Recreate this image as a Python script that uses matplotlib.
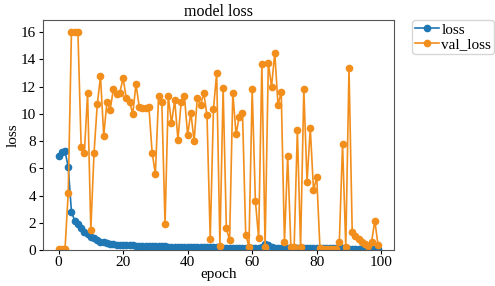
import matplotlib
matplotlib.use("Agg")
import matplotlib.pyplot as plt

plt.rcParams["font.family"] = ["Liberation Serif", "DejaVu Serif"]
plt.rcParams["font.size"] = 11

# ── Data ──────────────────────────────────────────────────────────────────────
epochs = list(range(100))

loss = [
    6.9, 7.2, 7.25, 6.1, 2.8, 2.15, 1.9, 1.6, 1.35, 1.15,
    0.98, 0.85, 0.72, 0.62, 0.55, 0.5, 0.46, 0.43, 0.4, 0.38,
    0.36, 0.35, 0.34, 0.33, 0.32, 0.31, 0.3, 0.29, 0.28, 0.28,
    0.27, 0.27, 0.26, 0.26, 0.25, 0.25, 0.24, 0.24, 0.23, 0.23,
    0.22, 0.22, 0.21, 0.21, 0.2, 0.2, 0.2, 0.19, 0.19, 0.19,
    0.18, 0.18, 0.18, 0.17, 0.17, 0.17, 0.17, 0.16, 0.16, 0.16,
    0.16, 0.16, 0.17, 0.22, 0.45, 0.35, 0.2, 0.16, 0.15, 0.15,
    0.15, 0.14, 0.14, 0.14, 0.14, 0.13, 0.13, 0.13, 0.13, 0.12,
    0.12, 0.12, 0.12, 0.12, 0.11, 0.11, 0.11, 0.11, 0.11, 0.11,
    0.1, 0.1, 0.1, 0.1, 0.1, 0.1, 0.1, 0.1, 0.1, 0.1,
]

val_loss = [
    0.05, 0.05, 0.05, 4.2, 16.05, 16.05, 16.05, 7.6, 7.15, 11.5,
    1.5, 7.15, 10.7, 12.75, 8.4, 10.9, 10.3, 11.85, 11.45, 11.57,
    12.62, 11.15, 10.9, 10.0, 12.2, 10.5, 10.4, 10.4, 10.5, 7.15,
    5.6, 11.3, 10.9, 1.9, 11.3, 9.3, 11.0, 8.1, 10.9, 11.3,
    8.45, 10.1, 8.0, 11.2, 10.65, 11.55, 9.9, 0.8, 10.35, 13.0,
    0.3, 11.9, 1.6, 0.7, 11.57, 8.5, 9.8, 10.1, 1.1, 0.25,
    11.8, 3.6, 0.85, 13.7, 0.25, 13.75, 12.0, 14.5, 10.65, 11.6,
    0.6, 6.9, 0.2, 0.2, 8.8, 0.2, 11.8, 5.0, 8.95, 4.4,
    5.35, 0.15, 0.1, 0.1, 0.1, 0.1, 0.1, 0.55, 7.8, 0.2,
    13.35, 1.3, 1.0, 0.8, 0.6, 0.45, 0.3, 0.6, 2.15, 0.35,
]

labels = ["loss", "val_loss"]


def main():
    fig = plt.figure(figsize=(4.95, 2.86), dpi=100)
    ax = fig.add_subplot(111)
    fig.subplots_adjust(left=0.086, right=0.796, bottom=0.126, top=0.930)

    ax.plot(epochs, loss, marker="o", markersize=4.5, linewidth=1.2, color="#1f77b4")
    ax.plot(epochs, val_loss, marker="o", markersize=4.5, linewidth=1.2, color="#f28e1c")

    ax.set_ylim(0, 16.9)
    ax.set_xticks([0, 20, 40, 60, 80, 100])
    ax.set_yticks([0, 2, 4, 6, 8, 10, 12, 14, 16])
    ax.tick_params(labelsize=11, pad=1.5, length=3)

    ax.set_title("model loss", fontsize=11.5, pad=3)
    ax.set_xlabel("epoch", fontsize=11, labelpad=-1)
    ax.set_ylabel("loss", fontsize=11, labelpad=1)

    for spine in ax.spines.values():
        spine.set_color("#555555")

    ax.legend(labels, loc="upper left", bbox_to_anchor=(1.05, 1.0),
              borderaxespad=0, handlelength=1.6, handletextpad=0.15,
              borderpad=0.2, labelspacing=0.05, fontsize=11)

    fig.savefig("out.png", dpi=100)
    plt.close(fig)


if __name__ == "__main__":
    main()
